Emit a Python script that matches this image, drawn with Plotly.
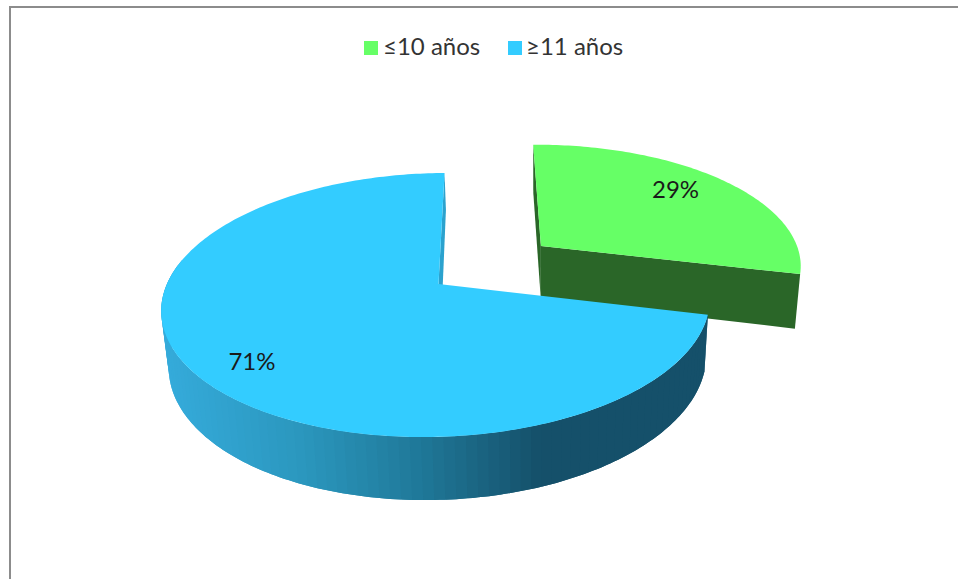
import math
import plotly.graph_objects as go

# Chart content
categories = ["≤10 años", "≥11 años"]
shares = [29, 71]
top_colors = ["#66ff66", "#33ccff"]
green_wall = "#2a6628"
blue_cut_wall = "#2ba2ce"
# Shading of the blue outer wall, from its left edge to its right edge
wall_shade_x = [161, 300, 420, 540, 708]
wall_shade_rgb = [(53, 171, 219), (43, 151, 190), (31, 120, 152), (21, 80, 106), (21, 80, 106)]

# Projection of the tilted pie plane onto the page
CX, CY = 438.5, 284.0
RX, RY = 270.7, 128.7
SHEAR_X, SHEAR_Y = 7.0, 2.4
PERSP_U, PERSP_V = 0.0067, 0.159
EXPLODE = 0.493


def project(u, v):
    den = 1 + PERSP_V * v + PERSP_U * u
    return CX + (RX * u + SHEAR_X * v) / den, CY - (RY * v + SHEAR_Y * u) / den


def drop(point):
    # Same point on the underside of the pie
    x, y = point
    return 537 + 0.98 * (x - 537), y + 53 + 0.0515 * (y - 243)


def rim(angle, du=0.0, dv=0.0):
    a = math.radians(angle)
    return project(du + math.cos(a), dv + math.sin(a))


def shade(x):
    for i in range(len(wall_shade_x) - 1):
        x0, x1 = wall_shade_x[i], wall_shade_x[i + 1]
        if x <= x1:
            t = max(0.0, (x - x0) / (x1 - x0))
            c = [round(a + (b - a) * t) for a, b in zip(wall_shade_rgb[i], wall_shade_rgb[i + 1])]
            return "rgb({},{},{})".format(*c)
    return "rgb({},{},{})".format(*wall_shade_rgb[-1])


def polygon(points, color):
    return go.Scatter(
        x=[p[0] for p in points] + [points[0][0]],
        y=[p[1] for p in points] + [points[0][1]],
        mode="none",
        fill="toself",
        fillcolor=color,
        hoverinfo="skip",
        showlegend=False,
    )


# Slice angles: the first slice runs clockwise from twelve o'clock, the second one counter-clockwise
sweep_green = 360 * shares[0] / sum(shares)
sweep_blue = 360 * shares[1] / sum(shares)
green_start, green_end = 90.0, 90.0 - sweep_green
blue_start, blue_end = 90.0, 90.0 + sweep_blue
green_mid = math.radians((green_start + green_end) / 2)
blue_mid = (blue_start + blue_end) / 2
du, dv = EXPLODE * math.cos(green_mid), EXPLODE * math.sin(green_mid)


def arc(a0, a1, n=1, off=(0.0, 0.0)):
    steps = max(2, int(abs(a1 - a0) / n))
    return [rim(a0 + (a1 - a0) * i / steps, off[0], off[1]) for i in range(steps + 1)]


traces = []

# Detached slice: the two cut faces, then the top
green_apex = project(du, dv)
green_arc = arc(green_start, green_end, off=(du, dv))
traces.append(polygon([green_arc[0], drop(green_arc[0]), drop(green_apex), green_apex], green_wall))
traces.append(polygon([green_apex, green_arc[-1], drop(green_arc[-1]), drop(green_apex)], green_wall))
traces.append(polygon([green_apex] + green_arc, top_colors[0]))

# Main slice: shaded outer wall in overlapping bands, the cut face, then the top
blue_apex = project(0, 0)
wall_arc = arc(168.0, blue_end)
for i in range(0, len(wall_arc) - 1, 2):
    band = wall_arc[i:i + 5]
    mid = band[min(1, len(band) - 1)]
    traces.append(polygon(band + [drop(p) for p in reversed(band)], shade(mid[0])))
cut_rim = project(0, 1)
cut_low = drop(cut_rim)
cut_low = (cut_rim[0] + 0.75 * (cut_low[0] - cut_rim[0]), cut_rim[1] + 0.75 * (cut_low[1] - cut_rim[1]))
traces.append(polygon([cut_rim, cut_low, drop(blue_apex), blue_apex], blue_cut_wall))
traces.append(polygon([blue_apex] + arc(blue_start, blue_end), top_colors[1]))

# Percentage labels placed on the top faces
label_green = math.radians(math.degrees(green_mid) + 2.4)
label_blue = math.radians(blue_mid + 4.4)
gx, gy = project(du + 0.762 * math.cos(label_green), dv + 0.762 * math.sin(label_green))
bx, by = project(0.825 * math.cos(label_blue), 0.825 * math.sin(label_blue))
traces.append(go.Scatter(
    x=[gx, bx], y=[gy, by],
    mode="text",
    text=[f"{shares[0]}%", f"{shares[1]}%"],
    textposition="middle center",
    textfont=dict(family="Lato", size=24, color="#1a1a1a"),
    hoverinfo="skip",
    showlegend=False,
))

# Legend drawn as square swatches with their captions beside them
swatch_x = [371, 515]
caption_x = [385, 528]
legend_y = 48
traces.append(go.Scatter(
    x=swatch_x, y=[legend_y] * len(swatch_x),
    mode="markers",
    marker=dict(symbol="square", size=14, color=top_colors),
    hoverinfo="skip",
    showlegend=False,
))

fig = go.Figure(traces)
for label, x in zip(categories, caption_x):
    fig.add_annotation(
        x=x, y=legend_y, text=label, showarrow=False,
        xanchor="left", yanchor="middle", xshift=-4, yshift=3,
        font=dict(family="Lato", size=24, color="#333333"),
    )
fig.update_layout(
    width=958, height=579,
    margin=dict(l=0, r=0, t=0, b=0),
    paper_bgcolor="white",
    plot_bgcolor="white",
    showlegend=False,
    xaxis=dict(range=[0, 958], visible=False, fixedrange=True),
    yaxis=dict(range=[579, 0], visible=False, fixedrange=True),
    shapes=[
        dict(type="line", x0=10, x1=10, y0=6, y1=579, line=dict(color="#8c8c8c", width=2)),
        dict(type="line", x0=9, x1=958, y0=7, y1=7, line=dict(color="#8c8c8c", width=2)),
    ],
)
fig.write_html("out.html")
